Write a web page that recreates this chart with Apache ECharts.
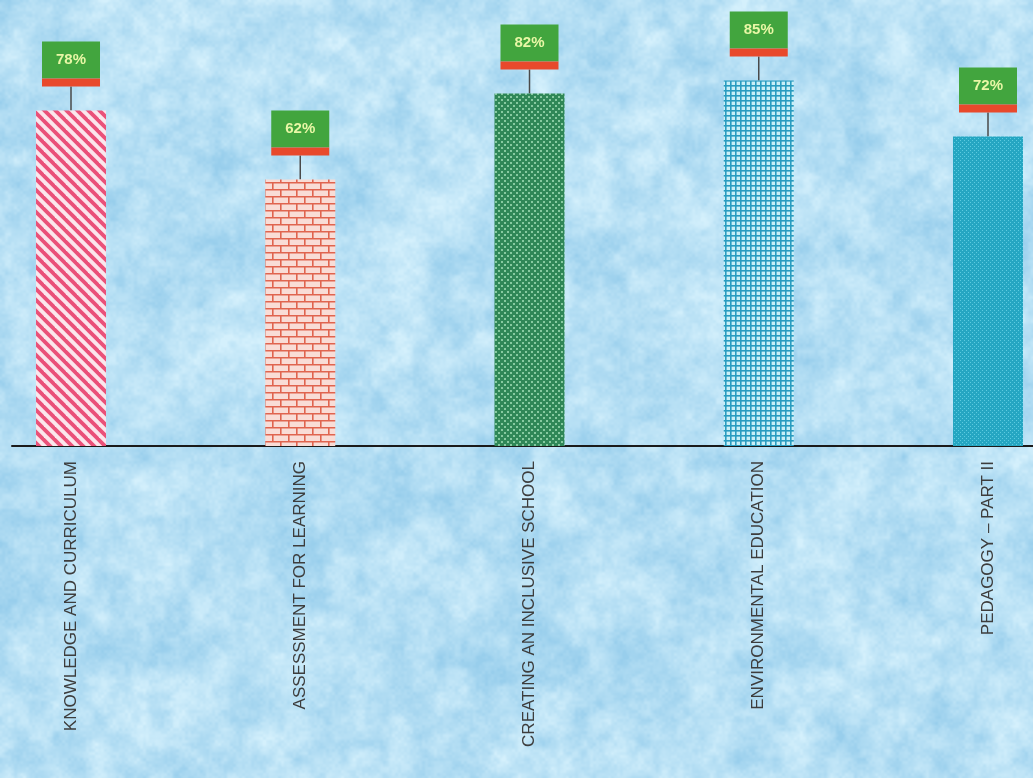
<!DOCTYPE html>
<html>
<head>
<meta charset="utf-8">
<script src="https://cdn.jsdelivr.net/npm/echarts@6/dist/echarts.min.js"></script>
<style>
html,body{margin:0;padding:0;}
#chart{width:1033px;height:778px;}
</style>
</head>
<body>
<div id="chart"></div>
<script>
// ---- data ----
const categories = [
  'KNOWLEDGE AND CURRICULUM',
  'ASSESSMENT FOR LEARNING',
  'CREATING AN INCLUSIVE SCHOOL',
  'ENVIRONMENTAL EDUCATION',
  'PEDAGOGY \u2013 PART II'
];
const percentValues = [78, 62, 82, 85, 72];

// ---- textures (style only) ----
function makeTile(w, h, draw) {
  const c = document.createElement('canvas');
  c.width = w; c.height = h;
  draw(c.getContext('2d'), w, h);
  return c;
}
const stripeTile = makeTile(11, 11, (g, w, h) => {
  g.fillStyle = '#fbe6ec'; g.fillRect(0, 0, w, h);
  g.strokeStyle = '#ea5179'; g.lineWidth = 3.8;
  for (let k = -1; k <= 1; k++) {
    g.beginPath(); g.moveTo(k * w - 2, -2); g.lineTo(k * w + w + 2, h + 2); g.stroke();
  }
});
const brickTile = makeTile(16, 14, (g, w, h) => {
  g.fillStyle = '#f9dcd6'; g.fillRect(0, 0, w, h);
  g.strokeStyle = '#e0644f'; g.lineWidth = 1.6;
  g.beginPath();
  g.moveTo(0, 0.8); g.lineTo(w, 0.8);
  g.moveTo(0, 7.8); g.lineTo(w, 7.8);
  g.moveTo(0.8, 0); g.lineTo(0.8, 7);
  g.moveTo(8.8, 7); g.lineTo(8.8, 14);
  g.stroke();
});
const dotGreenTile = makeTile(6, 6, (g, w, h) => {
  g.fillStyle = '#2f8757'; g.fillRect(0, 0, w, h);
  g.fillStyle = '#86caa0';
  g.fillRect(0, 0, 2, 2); g.fillRect(3, 3, 2, 2);
});
const gridTile = makeTile(5, 5, (g, w, h) => {
  g.fillStyle = '#c9f0f8'; g.fillRect(0, 0, w, h);
  g.fillStyle = '#2a9cc0';
  g.fillRect(0, 0, w, 1.6); g.fillRect(0, 0, 1.6, h);
});
const tealTile = makeTile(4, 4, (g, w, h) => {
  g.fillStyle = '#25a6c2'; g.fillRect(0, 0, w, h);
  g.fillStyle = '#5ccbe0';
  g.fillRect(0, 0, 1, 1); g.fillRect(2, 2, 1, 1);
});
const barTiles = [stripeTile, brickTile, dotGreenTile, gridTile, tealTile];

// mottled sky background (deterministic value noise, style only)
function hash(i, j) {
  const s = Math.sin(i * 127.1 + j * 311.7) * 43758.5453;
  return s - Math.floor(s);
}
function vnoise(x, y) {
  const xi = Math.floor(x), yi = Math.floor(y);
  let xf = x - xi, yf = y - yi;
  xf = xf * xf * (3 - 2 * xf); yf = yf * yf * (3 - 2 * yf);
  const a = hash(xi, yi), b = hash(xi + 1, yi), c = hash(xi, yi + 1), d = hash(xi + 1, yi + 1);
  return a + (b - a) * xf + (c - a) * yf + (a - b - c + d) * xf * yf;
}
const bg = document.createElement('canvas');
bg.width = 1033; bg.height = 778;
(function () {
  const g = bg.getContext('2d');
  const img = g.createImageData(bg.width, bg.height);
  const d = img.data;
  for (let y = 0; y < bg.height; y++) {
    for (let x = 0; x < bg.width; x++) {
      let n = 0.3 * vnoise(x / 50, y / 50) + 0.35 * vnoise(x / 20 + 7, y / 20 + 3) +
              0.22 * vnoise(x / 8 + 11, y / 8 + 5) + 0.13 * vnoise(x / 3 + 3, y / 3 + 9);
      n = Math.min(1, Math.max(0, (n - 0.5) * 1.5 + 0.5));
      const p = (y * bg.width + x) * 4;
      d[p] = 152 + n * 60;
      d[p + 1] = 206 + n * 34;
      d[p + 2] = 236 + n * 16;
      d[p + 3] = 255;
    }
  }
  g.putImageData(img, 0, 0);
})();
document.getElementById('chart').style.background = 'url(' + bg.toDataURL() + ')';

// ---- chart ----
const chart = echarts.init(document.getElementById('chart'), null, { renderer: 'canvas' });
chart.setOption({
  backgroundColor: 'transparent',
  animation: false,
  grid: [
    { left: 71, right: 45, top: 16, height: 430 },
    { left: 12, right: 0, top: 16, height: 430 }
  ],
  xAxis: [{
    type: 'category',
    gridIndex: 0,
    boundaryGap: false,
    data: categories,
    axisLine: { show: false },
    axisTick: { show: false },
    axisLabel: {
      interval: 0,
      rotate: 90,
      margin: 15,
      fontSize: 17,
      fontFamily: 'Liberation Sans, Arial, sans-serif',
      color: '#3d3d3d'
    }
  }, {
    type: 'value',
    gridIndex: 1,
    min: 0, max: 1,
    axisLine: { show: true, lineStyle: { color: '#1a1a1a', width: 2 } },
    axisTick: { show: false },
    axisLabel: { show: false },
    splitLine: { show: false }
  }],
  yAxis: [
    { type: 'value', gridIndex: 0, min: 0, max: 100, show: false, splitLine: { show: false } },
    { type: 'value', gridIndex: 1, min: 0, max: 100, show: false, splitLine: { show: false } }
  ],
  series: [{
    type: 'bar',
    xAxisIndex: 0,
    yAxisIndex: 0,
    clip: false,
    barWidth: 70,
    data: percentValues.map((v, i) => ({
      value: v,
      itemStyle: { color: { image: barTiles[i], repeat: 'repeat' } }
    })),
    label: {
      show: true,
      position: 'top',
      distance: 0,
      formatter: p => '{t|' + p.value + '%}\n{r| }',
      rich: {
        t: {
          backgroundColor: '#42a53e',
          width: 58, height: 37, lineHeight: 37,
          align: 'center',
          color: '#e9f7a6',
          fontSize: 15,
          fontWeight: 'bold',
          fontFamily: 'Liberation Sans, Arial, sans-serif'
        },
        r: {
          backgroundColor: '#e8492c',
          width: 58, height: 8, lineHeight: 8,
          fontSize: 1
        }
      }
    },
    labelLayout: { dy: -24 },
    labelLine: { show: true, lineStyle: { color: '#4a4a4a', width: 1.5 } }
  }]
});
</script>
</body>
</html>
